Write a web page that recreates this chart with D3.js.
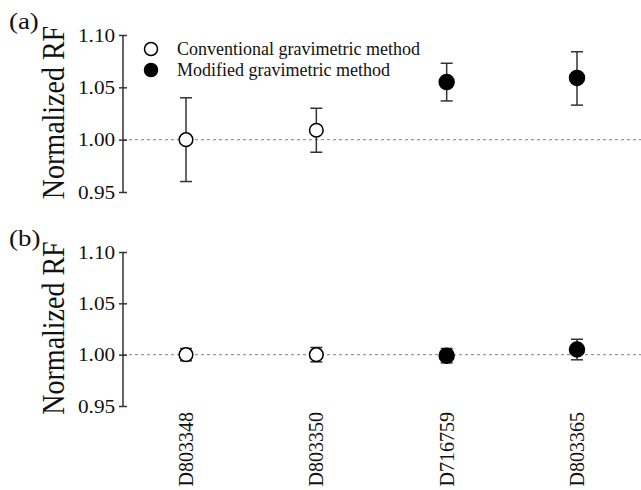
<!DOCTYPE html>
<html><head><meta charset="utf-8">
<script src="https://cdn.jsdelivr.net/npm/d3@7"></script>
<style>body{margin:0;background:#fff}svg{display:block}text{font-family:"Liberation Serif","Times New Roman",serif;fill:#111}</style>
</head><body>
<svg id="c" width="641" height="490"></svg>
<script>
const categories = ["D803348","D803350","D716759","D803365"];
const method = ["conventional","conventional","modified","modified"];
const aValues = [1.000, 1.009, 1.055, 1.059];
const aUpper  = [1.040, 1.030, 1.073, 1.084];
const aLower  = [0.960, 0.988, 1.037, 1.033];
const bValues = [1.000, 1.000, 0.999, 1.005];
const bUpper  = [1.006, 1.007, 1.006, 1.015];
const bLower  = [0.994, 0.993, 0.992, 0.995];
const yTicks = [0.95, 1.00, 1.05, 1.10];
const legendLabels = ["Conventional gravimetric method","Modified gravimetric method"];

const svg = d3.select("#c");
const axisX = 123;
const x = d3.scalePoint().domain(categories).range([186, 577]);

function panel(label, top, bottom, vals, up, lo, labelY) {
  const y = d3.scaleLinear().domain([0.95, 1.10]).range([bottom, top]);
  const g = svg.append("g");
  g.append("line").attr("x1", axisX).attr("x2", 641).attr("y1", y(1)).attr("y2", y(1))
    .attr("stroke", "#999").attr("stroke-width", 1.2).attr("stroke-dasharray", "3,3");
  const ax = g.append("g").attr("transform", `translate(${axisX},0)`)
    .call(d3.axisLeft(y).tickValues(yTicks).tickFormat(d3.format(".2f")).tickSize(4).tickPadding(3));
  ax.select(".domain").attr("stroke", "#333").attr("stroke-width", 1.5).attr("d", `M0,${bottom}V${top}`);
  ax.selectAll(".tick line").attr("stroke", "#333").attr("stroke-width", 1.5).attr("x1", 4);
  ax.selectAll(".tick text").attr("font-size", 19).attr("fill", "#111")
    .attr("transform", "scale(1.12,1)")
    .style("font-family", '"Liberation Serif","Times New Roman",serif');
  g.append("text").attr("transform", `translate(64,${(top + bottom) / 2 - 1}) scale(1.1,1) rotate(-90)`)
    .attr("text-anchor", "middle").attr("font-size", 28).text("Normalized RF");
  g.append("text").attr("transform", `translate(9,${labelY}) scale(1.12,1)`).attr("font-size", 24).text(label);
  const cap = 6;
  categories.forEach((c, i) => {
    const cx = x(c);
    g.append("line").attr("x1", cx).attr("x2", cx).attr("y1", y(up[i])).attr("y2", y(lo[i]))
      .attr("stroke", "#333").attr("stroke-width", 1.5);
    [up[i], lo[i]].forEach(v => g.append("line").attr("x1", cx - cap).attr("x2", cx + cap)
      .attr("y1", y(v)).attr("y2", y(v)).attr("stroke", "#333").attr("stroke-width", 1.5));
    const filled = method[i] === "modified";
    g.append("circle").attr("cx", cx).attr("cy", y(vals[i])).attr("r", filled ? 7.5 : 6.8)
      .attr("fill", filled ? "#000" : "#fff").attr("stroke", "#000").attr("stroke-width", 1.5);
  });
  return y;
}

panel("(a)", 35, 192, aValues, aUpper, aLower, 29);
panel("(b)", 252, 406, bValues, bUpper, bLower, 246);

legendLabels.forEach((t, i) => {
  const ly = 49 + i * 21;
  svg.append("circle").attr("cx", 151).attr("cy", ly).attr("r", 6.5)
    .attr("fill", i === 0 ? "#fff" : "#000").attr("stroke", "#000").attr("stroke-width", 1.5);
  svg.append("text").attr("x", 177).attr("y", ly + 6).attr("font-size", 18).text(t);
});

categories.forEach(c => {
  svg.append("text").attr("transform", `translate(${x(c) + 7},412) rotate(-90)`)
    .attr("text-anchor", "end").attr("font-size", 20).text(c);
});
</script>
</body></html>
